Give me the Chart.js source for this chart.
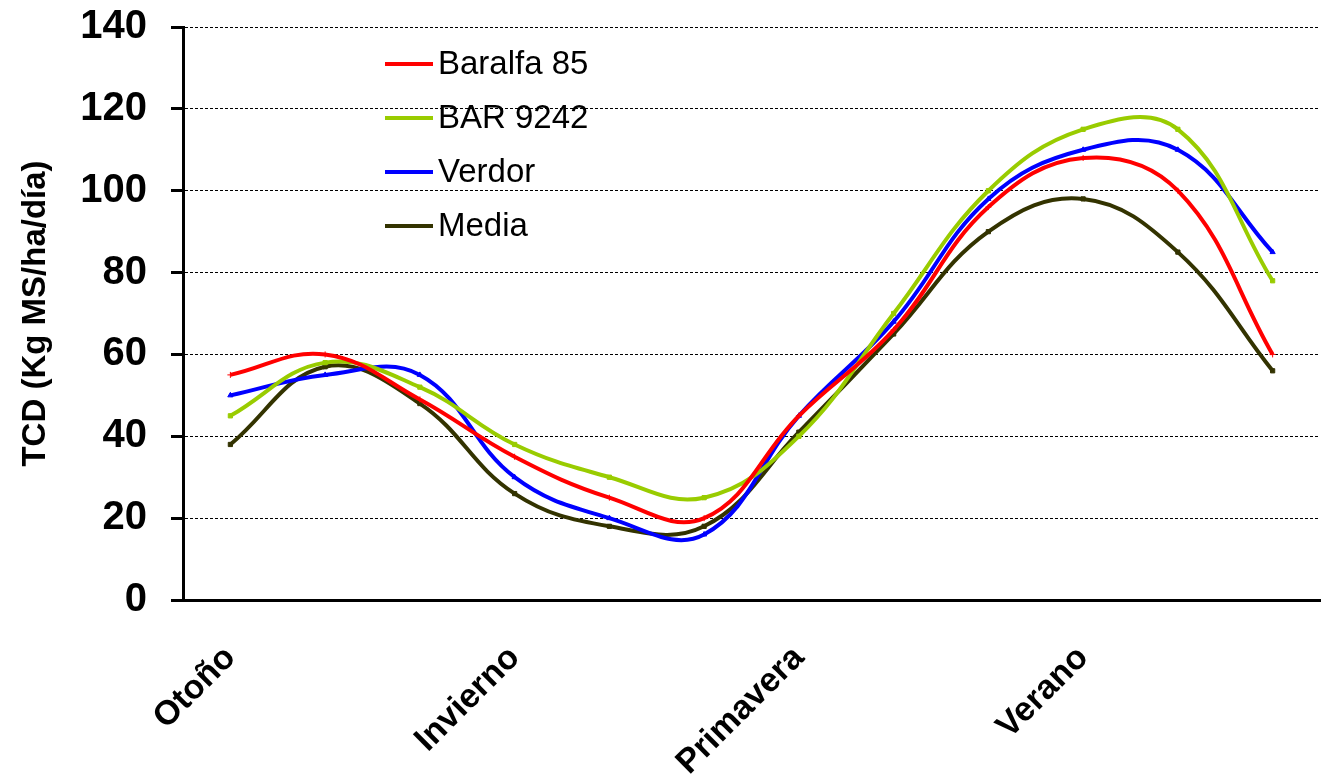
<!DOCTYPE html>
<html>
<head>
<meta charset="utf-8">
<script src="https://cdn.jsdelivr.net/npm/chart.js@4/dist/chart.umd.min.js"></script>
<style>
  html, body { margin: 0; padding: 0; background: #fff; }
  #wrap { width: 1328px; height: 781px; position: relative; }
</style>
</head>
<body>
<div id="wrap"><canvas id="chart"></canvas></div>
<script>
"use strict";

// seasons, 3 readings each; label only on the first of each season
const labels = ['Otoño', '', '', 'Invierno', '', '', 'Primavera', '', '', 'Verano', '', ''];

const baralfa85 = [55, 60, 49, 35, 25, 20, 45, 66, 96, 108, 100, 60];
const bar9242 = [45, 58, 52, 38, 30, 25, 40, 70, 100, 115, 115, 78];
const verdor = [50, 55, 55, 30, 20, 16, 45, 68, 98, 110, 110, 85];
const media = [38, 57, 48, 26, 18, 18, 41, 65, 90, 98, 85, 56];

const seriesNames = ['Baralfa 85', 'BAR 9242', 'Verdor', 'Media'];
const seriesColors = ['#ff0000', '#99cc00', '#0000ff', '#333300'];
const seriesMarkers = ['cross', 'rect', 'triangle', 'rect'];

const yTicks = [0, 20, 40, 60, 80, 100, 120, 140];

const FONT = "'Liberation Sans', Arial, sans-serif";

function makeDataset(i, values) {
  return {
    label: seriesNames[i],
    data: values,
    borderColor: seriesColors[i],
    backgroundColor: seriesColors[i],
    borderWidth: 4,
    tension: 0.4,
    pointStyle: seriesMarkers[i],
    pointRadius: 3,
    pointBorderWidth: 1,
    fill: false
  };
}

// legend drawn inside the plot, like the original
const insideLegend = {
  id: 'insideLegend',
  afterDraw(chart) {
    const ctx = chart.ctx;
    const area = chart.chartArea;
    const x0 = area.left + 202;
    const y0 = area.top + 37;
    ctx.save();
    chart.data.datasets.forEach((ds, i) => {
      const y = y0 + i * 54;
      ctx.strokeStyle = ds.borderColor;
      ctx.lineWidth = 4;
      ctx.beginPath();
      ctx.moveTo(x0, y);
      ctx.lineTo(x0 + 48, y);
      ctx.stroke();
      ctx.fillStyle = '#000';
      ctx.font = '33px ' + FONT;
      ctx.textBaseline = 'middle';
      ctx.fillText(ds.label, x0 + 53, y + 1);
    });
    ctx.restore();
  }
};

const ctx = document.getElementById('chart').getContext('2d');
const chart = new Chart(ctx, {
  type: 'line',
  data: {
    labels: labels,
    datasets: [
      makeDataset(0, baralfa85),
      makeDataset(1, bar9242),
      makeDataset(2, verdor),
      makeDataset(3, media)
    ]
  },
  options: {
    responsive: true,
    maintainAspectRatio: false,
    animation: false,
    layout: { padding: { top: 27, right: 8, left: 0, bottom: 0 } },
    plugins: {
      legend: { display: false },
      tooltip: { enabled: false }
    },
    scales: {
      x: {
        offset: true,
        grid: { display: false, drawTicks: false },
        border: { display: true, color: '#000', width: 3 },
        ticks: {
          autoSkip: false,
          minRotation: 45,
          maxRotation: 45,
          padding: 38,
          color: '#000',
          font: { family: FONT, size: 34, weight: 'bold' }
        },
        afterFit(scale) {
          scale.height = 181;
          scale.paddingLeft = 0;
          scale.paddingRight = 0;
        }
      },
      y: {
        min: 0,
        max: 140,
        afterBuildTicks(scale) { scale.ticks = yTicks.map(v => ({ value: v })); },
        grid: {
          color: '#000',
          lineWidth: 1,
          drawTicks: true,
          tickLength: 12,
          tickColor: '#000',
          tickWidth: 3
        },
        border: { display: true, color: '#000', width: 3, dash: [3, 2] },
        ticks: {
          padding: 24,
          color: '#000',
          font: { family: FONT, size: 40, weight: 'bold' }
        },
        title: {
          display: true,
          text: 'TCD (Kg MS/ha/día)',
          color: '#000',
          padding: { top: 16, bottom: 0 },
          font: { family: FONT, size: 33, weight: 'bold' }
        },
        afterFit(scale) {
          scale.width = 183;
          scale.paddingTop = 0;
          scale.paddingBottom = 0;
        }
      }
    }
  },
  plugins: [insideLegend]
});
</script>
</body>
</html>
